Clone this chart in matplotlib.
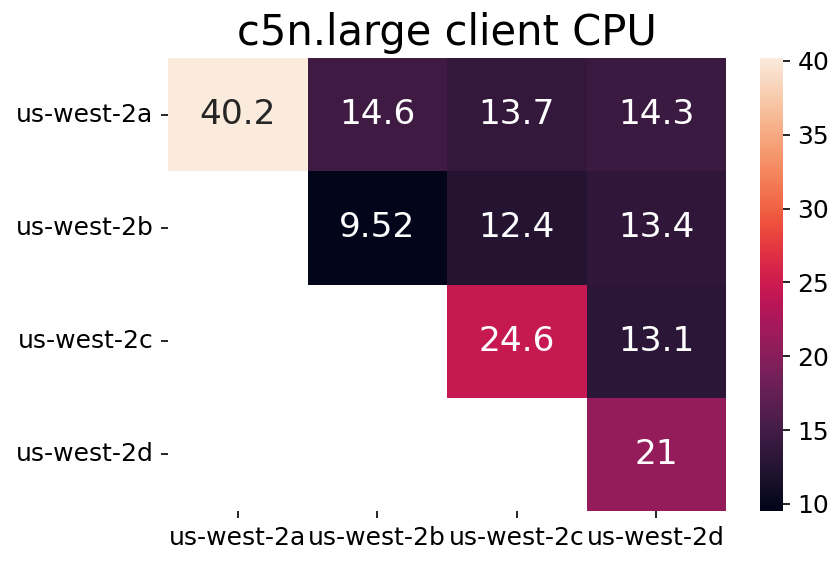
import numpy as np
import matplotlib
matplotlib.use('Agg')
import matplotlib.pyplot as plt
import seaborn as sns

zones = ['us-west-2a', 'us-west-2b', 'us-west-2c', 'us-west-2d']
row_a = [40.2, 14.6, 13.7, 14.3]
row_b = [np.nan, 9.52, 12.4, 13.4]
row_c = [np.nan, np.nan, 24.6, 13.1]
row_d = [np.nan, np.nan, np.nan, 21]

data = np.array([row_a, row_b, row_c, row_d])
mask = np.isnan(data)

W, H = 839, 565
fig = plt.figure(figsize=(W / 150, H / 150), dpi=150)
ax = fig.add_axes([168 / W, 1 - 511 / H, (726 - 168) / W, (511 - 58) / H])
cax = fig.add_axes([760 / W, 1 - 511 / H, (783 - 760) / W, (511 - 58) / H])
sns.heatmap(data, mask=mask, annot=True, fmt='.3g', ax=ax, cbar_ax=cax,
			xticklabels=zones, yticklabels=zones,
			annot_kws={'size': 16.5})
ax.set_title('c5n.large client CPU', fontsize=20)
ax.tick_params(labelsize=12)
plt.setp(ax.get_yticklabels(), rotation=0)
cax.tick_params(labelsize=12)
plt.savefig('out.png')
